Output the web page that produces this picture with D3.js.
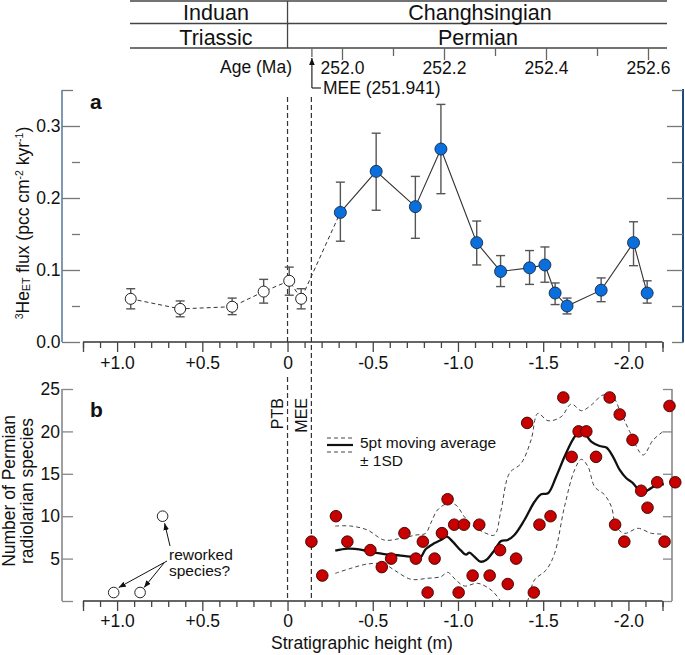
<!DOCTYPE html>
<html><head><meta charset="utf-8">
<script src="https://cdn.jsdelivr.net/npm/d3@7"></script>
<style>body{margin:0;background:#fff}svg{display:block}</style>
</head><body><svg id="c" width="685" height="655"></svg>
<script>
// ---------------- DATA ----------------
// Panel a: 3He_ET flux, Triassic (open) samples
const openH    = [0.92, 0.63, 0.325, 0.14, -0.01, -0.08];
const openFlux = [0.060, 0.046, 0.049, 0.070, 0.085, 0.060];
const openHi   = [0.074, 0.057, 0.061, 0.087, 0.104, 0.074];
const openLo   = [0.046, 0.035, 0.038, 0.054, 0.065, 0.046];
// Panel a: Permian (blue) samples
const blueH    = [-0.31, -0.52, -0.75, -0.90, -1.11, -1.25, -1.42, -1.51, -1.57, -1.64, -1.84, -2.03, -2.11];
const blueFlux = [0.180, 0.237, 0.188, 0.268, 0.138, 0.098, 0.103, 0.107, 0.068, 0.050, 0.072, 0.138, 0.068];
const blueHi   = [0.222, 0.290, 0.230, 0.330, 0.168, 0.120, 0.127, 0.132, 0.082, 0.061, 0.089, 0.167, 0.085];
const blueLo   = [0.140, 0.183, 0.144, 0.206, 0.107, 0.077, 0.080, 0.083, 0.052, 0.039, 0.056, 0.106, 0.054];
// Panel b: number of Permian radiolarian species
const redH = [-0.14,-0.204,-0.284,-0.351,-0.486,-0.553,-0.608,-0.686,-0.753,-0.794,-0.822,-0.863,-0.906,-0.939,-0.978,-1.004,-1.035,-1.086,-1.125,-1.186,-1.247,-1.292,-1.341,-1.406,-1.445,-1.478,-1.543,-1.618,-1.667,-1.708,-1.753,-1.81,-1.89,-1.922,-1.949,-1.976,-2.024,-2.075,-2.112,-2.169,-2.212,-2.241,-2.275];
const redN = [7,3,10,7,6,4,5,8,5,7,1,5,8,12,9,1,9,3,9,3,6,2,5,21,1,9,10,24,17,20,20,17,24,9,22,7,19,13,11,14,7,23,14];
// reworked species (open circles)
const reH = [1.02, 0.865, 0.733];
const reN = [1, 1, 10];
// 5pt moving average and ±1SD envelopes
const maH = [-0.28,-0.351,-0.42,-0.486,-0.567,-0.665,-0.753,-0.78,-0.81,-0.86,-0.9,-0.935,-0.969,-1.018,-1.047,-1.067,-1.096,-1.131,-1.165,-1.214,-1.253,-1.292,-1.331,-1.39,-1.449,-1.488,-1.528,-1.576,-1.625,-1.675,-1.714,-1.743,-1.782,-1.831,-1.871,-1.91,-1.949,-1.988,-2.028,-2.076,-2.116,-2.165,-2.208];
const maN = [5.93,6.17,6.1,5.78,5.54,5.35,5.15,5.15,6.1,6.8,7.2,7.58,7.0,5.93,5.46,5.7,5.23,4.64,4.83,6.0,7.07,7.2,7.78,9.55,11.7,12.6,12.7,14.66,17.0,19.07,19.97,19.77,18.8,18.28,18.1,17.0,15.45,14.47,13.88,12.77,13.1,13.7,13.76];
const upH = [-0.28,-0.371,-0.469,-0.567,-0.665,-0.753,-0.81,-0.84,-0.88,-0.939,-0.988,-1.037,-1.096,-1.165,-1.214,-1.253,-1.302,-1.371,-1.429,-1.469,-1.528,-1.606,-1.665,-1.724,-1.782,-1.851,-1.91,-1.949,-2.008,-2.086,-2.145,-2.208];
const upN = [8.84,8.84,8.37,7.19,7.39,7.78,7.98,9.16,10.73,11.5,11.32,9.95,8.76,7.98,7.78,10.73,15.06,16.24,18.99,22.13,21.26,21.73,23.23,22.44,23.11,24.29,24.02,22.52,19.97,17.22,18.99,20.05];
const loH = [-0.28,-0.371,-0.469,-0.567,-0.625,-0.724,-0.822,-0.9,-0.939,-0.988,-1.037,-1.116,-1.194,-1.249,-1.29,-1.37,-1.41,-1.449,-1.518,-1.567,-1.625,-1.684,-1.724,-1.763,-1.802,-1.861,-1.9,-1.929,-1.978,-2.057,-2.135,-2.208];
const loN = [3.26,3.85,4.36,4.36,3.66,2.56,2.68,2.87,3.38,2.48,1.77,2.09,1.3,0.04,-1.3,-1.3,0.1,2.48,3.66,5.62,11.12,15.45,16.71,15.84,13.48,12.5,11.12,8.76,7.98,8.57,7.98,7.9];
// ticks and labels
const xMajor = [1.0, 0.5, 0, -0.5, -1.0, -1.5, -2.0];
const xMinor = d3.range(12, -23, -1).map(d => d / 10).filter(d => Math.abs(Math.round(d * 10)) % 5 !== 0);
const yaMajor = [0, 0.1, 0.2, 0.3];
const yaMinor = [0.05, 0.15, 0.25];
const ybTicks = [0, 5, 10, 15, 20, 25];
const ybLabels = [5, 10, 15, 20, 25];
const ageMajor = [252.0, 252.2, 252.4, 252.6];
const ageMinor = [252.1, 252.3, 252.5];
const meeAge = 251.941, meeH = -0.14, ptbH = 0;
const stages = ["Induan", "Changhsingian"];
const periods = ["Triassic", "Permian"];

// ---------------- DRAW ----------------
const FONT = '"Liberation Sans", Arial, Helvetica, sans-serif';
const svg = d3.select("#c");
const x  = d3.scaleLinear().domain([1.2, -2.2]).range([83, 662.5]);
const ya = d3.scaleLinear().domain([0, 0.35]).range([342, 90]);
const yb = d3.scaleLinear().domain([0, 25]).range([601, 389]);
const age = d3.scaleLinear().domain([252.0, 252.6]).range([342, 648]);

const defs = svg.append("defs");
defs.append("marker").attr("id","ah").attr("viewBox","0 0 10 10").attr("refX",10).attr("refY",5)
  .attr("markerWidth",7).attr("markerHeight",7).attr("markerUnits","userSpaceOnUse").attr("orient","auto")
  .append("path").attr("d","M0,1 L10,5 L0,9 Z").attr("fill","#111");
defs.append("clipPath").attr("id","clipb").append("rect")
  .attr("x", 83).attr("y", 380).attr("width", 600).attr("height", 601 - 380);

const fmtX = d => d > 0 ? "+" + d.toFixed(1) : (d === 0 ? "0" : "-" + Math.abs(d).toFixed(1));

function ax(gen, tx, ty, color, fs) {
  const g = svg.append("g").attr("transform", `translate(${tx},${ty})`).call(gen);
  g.select(".domain").remove();
  g.selectAll(".tick line").attr("stroke", color).attr("stroke-width", 1.3);
  g.selectAll(".tick text").attr("font-size", fs || 17.5).attr("fill", "#111").attr("font-family", FONT);
  return g;
}
function txt(s, px, py, opt = {}) {
  return svg.append("text").attr("x", px).attr("y", py).text(s)
    .attr("font-family", FONT).attr("font-size", opt.fs || 17.5).attr("fill", "#111")
    .attr("text-anchor", opt.anchor || "start").attr("font-weight", opt.fw || "normal");
}
function vline(px, y1, y2, color, w, dash) {
  return svg.append("line").attr("x1", px).attr("x2", px).attr("y1", y1).attr("y2", y2)
    .attr("stroke", color).attr("stroke-width", w).attr("stroke-dasharray", dash || null);
}
function hline(y, x1, x2, color, w, dash) {
  return svg.append("line").attr("x1", x1).attr("x2", x2).attr("y1", y).attr("y2", y)
    .attr("stroke", color).attr("stroke-width", w).attr("stroke-dasharray", dash || null);
}

// ---- header table ----
[1, 23.5, 48].forEach(yy => hline(yy, 130, 667, "#444", 1.3));
vline(x(ptbH), 1, 48, "#444", 1.3);
txt(stages[0], 216, 20, {anchor: "middle", fs: 21.5});
txt(stages[1], 480, 20, {anchor: "middle", fs: 21.5});
txt(periods[0], 216, 44.5, {anchor: "middle", fs: 21.5});
txt(periods[1], 478, 44.5, {anchor: "middle", fs: 21.5});

// age axis
ax(d3.axisBottom(age).tickValues(ageMajor).tickSize(12).tickPadding(1.6).tickFormat(d3.format(".1f")), 0, 48, "#666");
ax(d3.axisBottom(age).tickValues(ageMinor).tickSize(8).tickFormat(""), 0, 48, "#666");
txt("Age (Ma)", 292, 73, {anchor: "end"});
const mx = age(meeAge);
vline(mx, 48, 57, "#666", 1.3);
svg.append("line").attr("x1", mx).attr("x2", mx).attr("y1", 88).attr("y2", 58)
  .attr("stroke", "#111").attr("stroke-width", 1.1).attr("marker-end", "url(#ah)");
hline(88, mx, mx + 9, "#111", 1.1);
txt("MEE (" + meeAge.toFixed(3) + ")", mx + 11, 94);

// ---- reference dashed lines ----
vline(x(ptbH), 97, 342, "#333", 1.2, "5,3");
vline(x(ptbH), 377, 601, "#333", 1.2, "5,3");
vline(x(meeH), 97, 601, "#333", 1.2, "5,3");

// ---- panel a axes ----
vline(62, 90, 342, "#8099b3", 2);
ax(d3.axisRight(ya).tickValues(yaMajor).tickSize(18).tickFormat(""), 62, 0, "#777");
ax(d3.axisRight(ya).tickValues(yaMinor).tickSize(8).tickFormat(""), 72, 0, "#777");
ax(d3.axisRight(ya).tickValues([0.35]).tickSize(11).tickFormat(""), 62, 0, "#777");
ax(d3.axisLeft(ya).tickValues(yaMajor).tickSize(0).tickPadding(1.5).tickFormat(d3.format(".1f")), 62, 0, "#777");
vline(683, 89, 342.5, "#1f4a7d", 2);
ax(d3.axisLeft(ya).tickValues(yaMajor.slice(1)).tickSize(16).tickFormat(""), 683, 0, "#777");
ax(d3.axisLeft(ya).tickValues([0, 0.05, 0.15, 0.25, 0.35]).tickSize(11).tickFormat(""), 683, 0, "#777");
hline(342, 83, 662.5, "#333", 1.3);
ax(d3.axisBottom(x).tickValues(xMinor).tickSize(6).tickFormat(""), 0, 342, "#444");
ax(d3.axisBottom(x).tickValues(xMajor.concat([1.2, -2.2])).tickSize(10).tickPadding(4.6).tickFormat(d => xMajor.includes(d) ? fmtX(d) : ""), 0, 342, "#444");

// ---- panel a data ----
const openPts = openH.map((h, i) => ({h, v: openFlux[i], hi: openHi[i], lo: openLo[i]}));
const bluePts = blueH.map((h, i) => ({h, v: blueFlux[i], hi: blueHi[i], lo: blueLo[i]}));
const lineA = d3.line().x(d => x(d.h)).y(d => ya(d.v));
svg.append("path").attr("d", lineA(openPts.concat([bluePts[0]]))).attr("fill", "none")
  .attr("stroke", "#333").attr("stroke-width", 1).attr("stroke-dasharray", "4,3");
svg.append("path").attr("d", lineA(bluePts)).attr("fill", "none").attr("stroke", "#333").attr("stroke-width", 1.1);
function errBars(pts) {
  const g = svg.append("g").attr("stroke", "#555").attr("stroke-width", 1.4);
  pts.forEach(d => {
    const cx = x(d.h);
    g.append("line").attr("x1", cx).attr("x2", cx).attr("y1", ya(d.hi)).attr("y2", ya(d.lo));
    g.append("line").attr("x1", cx - 4.5).attr("x2", cx + 4.5).attr("y1", ya(d.hi)).attr("y2", ya(d.hi));
    g.append("line").attr("x1", cx - 4.5).attr("x2", cx + 4.5).attr("y1", ya(d.lo)).attr("y2", ya(d.lo));
  });
}
errBars(openPts); errBars(bluePts);
svg.append("g").selectAll("circle").data(openPts).join("circle")
  .attr("cx", d => x(d.h)).attr("cy", d => ya(d.v)).attr("r", 5.5)
  .attr("fill", "#fff").attr("stroke", "#222").attr("stroke-width", 1);
svg.append("g").selectAll("circle").data(bluePts).join("circle")
  .attr("cx", d => x(d.h)).attr("cy", d => ya(d.v)).attr("r", 6)
  .attr("fill", "#0a6fdc").attr("stroke", "#102a4a").attr("stroke-width", 0.9);
txt("a", 90, 109, {fw: "bold", fs: 21});
// y title a
const ta = svg.append("text").attr("transform", "translate(28.5,223) rotate(-90)")
  .attr("text-anchor", "middle").attr("font-family", FONT).attr("font-size", 17.5).attr("fill", "#111");
ta.append("tspan").text("3").attr("font-size", 10.5).attr("dy", -6);
ta.append("tspan").text("He").attr("dy", 6);
ta.append("tspan").text("ET").attr("font-size", 10.5).attr("dy", 1.5);
ta.append("tspan").text(" flux (pcc cm").attr("dy", -1.5);
ta.append("tspan").text("-2").attr("font-size", 10.5).attr("dy", -6);
ta.append("tspan").text(" kyr").attr("dy", 6);
ta.append("tspan").text("-1").attr("font-size", 10.5).attr("dy", -6);
ta.append("tspan").text(")").attr("dy", 6);

// ---- panel b axes ----
vline(62, 389, 601, "#888", 1.6);
ax(d3.axisRight(yb).tickValues(ybTicks).tickSize(11).tickFormat(""), 62, 0, "#888");
ax(d3.axisLeft(yb).tickValues(ybLabels).tickSize(0).tickPadding(2).tickFormat(d3.format("d")), 62, 0, "#888");
vline(672, 389, 601, "#888", 1.6);
ax(d3.axisLeft(yb).tickValues(ybTicks).tickSize(9).tickFormat(""), 672, 0, "#888");
hline(601, 83, 662.5, "#333", 1.3);
ax(d3.axisBottom(x).tickValues(xMinor).tickSize(6).tickFormat(""), 0, 601, "#444");
ax(d3.axisBottom(x).tickValues(xMajor.concat([1.2, -2.2])).tickSize(10).tickPadding(3.6).tickFormat(d => xMajor.includes(d) ? fmtX(d) : ""), 0, 601, "#444");

// ---- panel b curves ----
const lineB = d3.line().x(d => x(d[0])).y(d => yb(d[1])).curve(d3.curveCatmullRom.alpha(0.5));
const cg = svg.append("g").attr("clip-path", "url(#clipb)");
cg.append("path").attr("d", lineB(upH.map((h, i) => [h, upN[i]]))).attr("fill", "none")
  .attr("stroke", "#444").attr("stroke-width", 1).attr("stroke-dasharray", "4,3");
cg.append("path").attr("d", lineB(loH.map((h, i) => [h, loN[i]]))).attr("fill", "none")
  .attr("stroke", "#444").attr("stroke-width", 1).attr("stroke-dasharray", "4,3");
cg.append("path").attr("d", lineB(maH.map((h, i) => [h, maN[i]]))).attr("fill", "none")
  .attr("stroke", "#111").attr("stroke-width", 2.3);

// points
svg.append("g").selectAll("circle").data(redH.map((h, i) => [h, redN[i]])).join("circle")
  .attr("cx", d => x(d[0])).attr("cy", d => yb(d[1])).attr("r", 5.8)
  .attr("fill", "#c80000").attr("stroke", "#3a0000").attr("stroke-width", 0.9);
svg.append("g").selectAll("circle").data(reH.map((h, i) => [h, reN[i]])).join("circle")
  .attr("cx", d => x(d[0])).attr("cy", d => yb(d[1])).attr("r", 5.3)
  .attr("fill", "#fff").attr("stroke", "#222").attr("stroke-width", 1);

// annotation
txt("reworked", 169, 560, {fs: 15.5});
txt("species?", 169, 576, {fs: 15.5});
function arrow(x1, y1, x2, y2) {
  svg.append("line").attr("x1", x1).attr("y1", y1).attr("x2", x2).attr("y2", y2)
    .attr("stroke", "#111").attr("stroke-width", 1).attr("marker-end", "url(#ah)");
}
arrow(167, 561, x(reH[0]) + 5, yb(reN[0]) - 5);
arrow(164, 563, x(reH[1]) + 4, yb(reN[1]) - 5);
arrow(170, 546, x(reH[2]) + 2, yb(reN[2]) + 7);

// legend
hline(438, 327, 353, "#444", 1, "4,3");
hline(445, 327, 353, "#111", 2.2);
hline(452, 327, 353, "#444", 1, "4,3");
txt("5pt moving average", 360, 448, {fs: 15.5});
txt("± 1SD", 360, 466, {fs: 15.5});

// PTB / MEE labels
svg.append("text").attr("transform", "translate(283,398) rotate(-90)").attr("text-anchor", "end")
  .attr("font-family", FONT).attr("font-size", 16).attr("fill", "#111").text("PTB");
svg.append("text").attr("transform", "translate(307,398) rotate(-90)").attr("text-anchor", "end")
  .attr("font-family", FONT).attr("font-size", 16).attr("fill", "#111").text("MEE");

txt("b", 90, 417, {fw: "bold", fs: 21});
svg.append("text").attr("transform", "translate(14.5,491) rotate(-90)").attr("text-anchor", "middle")
  .attr("font-family", FONT).attr("font-size", 17.5).attr("fill", "#111").text("Number of Permian");
svg.append("text").attr("transform", "translate(33,491) rotate(-90)").attr("text-anchor", "middle")
  .attr("font-family", FONT).attr("font-size", 17.5).attr("fill", "#111").text("radiolarian species");
txt("Stratigraphic height (m)", 362, 649, {anchor: "middle"});
</script></body></html>
